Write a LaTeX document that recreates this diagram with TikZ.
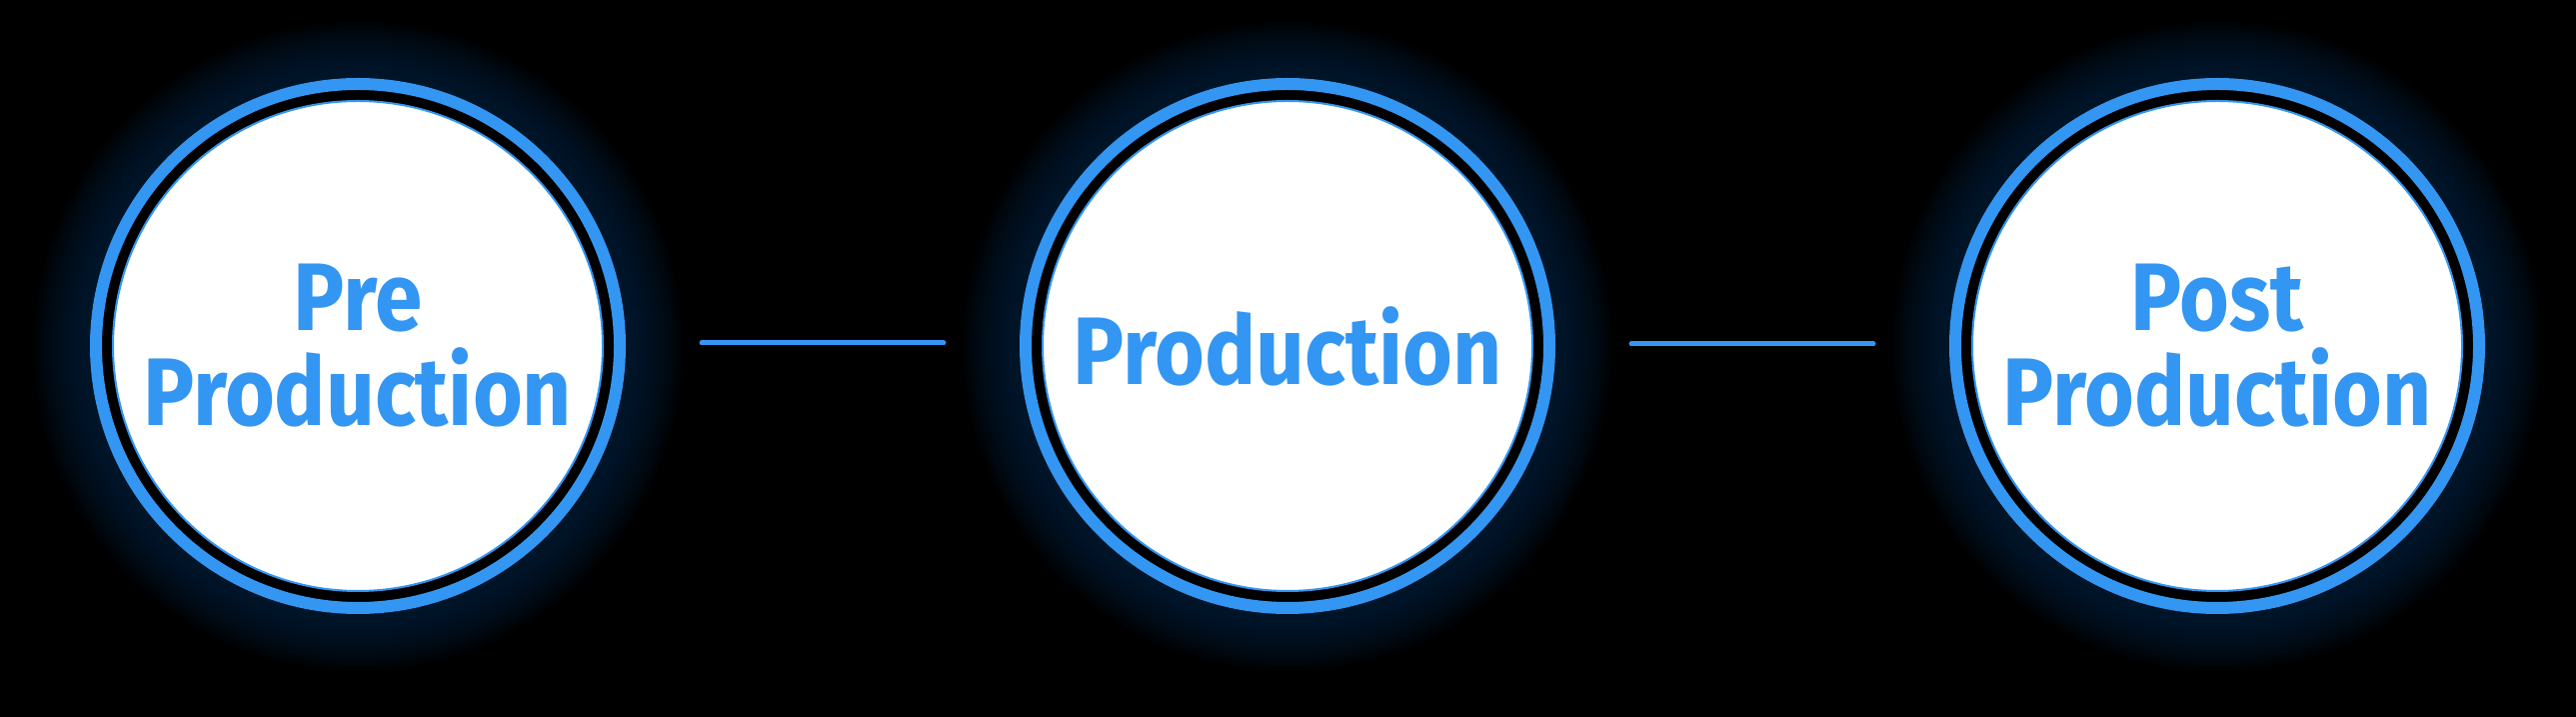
\documentclass[tikz,border=0pt]{standalone}
\usepackage{xcolor}
\usepackage{fontspec}
\setmainfont{Fira Sans}[FakeStretch=0.89]
\usetikzlibrary{positioning,backgrounds}

\definecolor{stageblue}{HTML}{3396F2}
\definecolor{glowblue}{RGB}{8,32,58}

\begin{document}
\begin{tikzpicture}[x=1pt,y=1pt,
        node distance=438pt,
        stage/.style={circle, draw=stageblue, line width=2pt, fill=white,
            minimum size=490pt, inner sep=0pt, text=stageblue, align=center,
            font=\bfseries\fontsize{96}{95}\selectfont},
        link/.style={stageblue, line width=5pt, line cap=round, shorten <=98pt, shorten >=98pt}]
        \useasboundingbox (0,0) rectangle (2577,717);
        \node[stage] (pre) at (358,371) {Pre\\Production};
        \node[stage, right=of pre] (prod) {Production};
        \node[stage, right=of prod] (post) {Post\\Production};
        \begin{scope}[on background layer]
            \fill[black] (0,0) rectangle (2577,717);
            \foreach \c in {pre, prod, post} {
                \foreach \r in {268, 272, ..., 324}
                    \fill[glowblue, opacity=0.1] (\c.center) circle (\r);
                \fill[black] (\c.center) circle (268);
                \draw[stageblue, line width=12pt] (\c.center) circle (262);
            }
        \end{scope}
        \draw[link] ([yshift=3pt]pre.east) -- ([yshift=3pt]prod.west);
        \draw[link] ([yshift=2pt]prod.east) -- ([yshift=2pt]post.west);
    \end{tikzpicture}
\end{document}
